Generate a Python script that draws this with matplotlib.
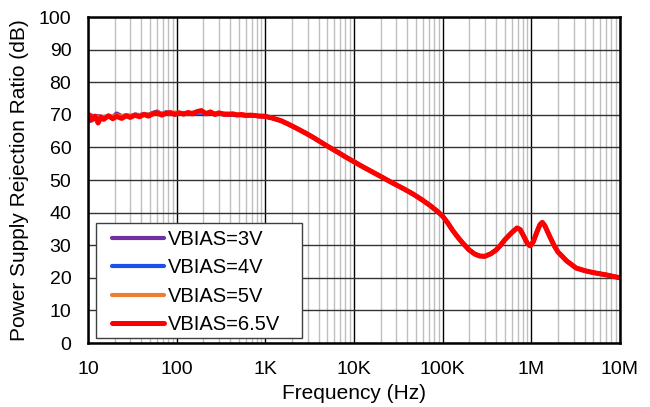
import matplotlib.pyplot as plt
from matplotlib.patches import Rectangle
from matplotlib.ticker import FixedLocator, NullFormatter

FONT = {'family': 'Liberation Sans', 'size': 15}

freq_low = [10, 11, 12, 13, 14, 15, 17, 19, 21, 24, 27, 30, 34, 38, 43, 48, 54,
            60, 68, 76, 85, 95, 107, 120, 135, 150, 170, 190, 215, 240, 270,
            300, 340, 380, 430, 480, 540, 600, 680, 760, 850, 950]

psrr_low_3v = [69.5, 69.8, 69.2, 69.6, 69.4, 69.0, 69.5, 69.3, 70.4, 69.6, 69.8,
               69.6, 70.1, 69.9, 70.3, 70.0, 70.6, 71.0, 70.3, 70.5, 70.2, 70.6,
               70.3, 70.5, 70.2, 70.6, 70.5, 70.8, 70.4, 70.6, 70.3, 70.4, 70.2,
               70.3, 70.0, 70.1, 69.9, 69.9, 69.8, 69.7, 69.6, 69.5]
psrr_low_4v = [67.8, 68.5, 69.0, 68.8, 69.3, 69.0, 69.4, 69.2, 69.6, 69.3, 69.7,
               69.5, 69.9, 69.8, 70.1, 69.9, 70.4, 70.6, 70.2, 70.8, 70.4, 70.5,
               70.3, 70.6, 70.4, 70.5, 70.6, 70.7, 70.3, 70.5, 70.2, 70.4, 70.1,
               70.2, 70.0, 70.0, 69.9, 69.8, 69.8, 69.7, 69.6, 69.5]
psrr_low_5v = [69.0, 69.3, 69.6, 69.1, 69.5, 69.2, 69.7, 69.4, 69.8, 69.5, 69.9,
               69.7, 70.0, 69.8, 70.2, 70.0, 70.3, 70.7, 70.4, 70.6, 70.5, 70.7,
               70.6, 70.5, 70.7, 70.6, 70.8, 71.0, 70.6, 70.7, 70.5, 70.6, 70.4,
               70.4, 70.3, 70.2, 70.1, 70.0, 69.9, 69.8, 69.7, 69.6]
psrr_low_65v = [70.4, 68.4, 69.6, 67.5, 69.3, 68.6, 69.7, 68.8, 69.5, 68.9, 69.7,
                69.2, 69.9, 69.4, 70.1, 69.6, 70.3, 70.6, 69.9, 70.5, 70.7, 70.1,
                70.6, 70.2, 70.7, 70.3, 71.0, 71.3, 70.3, 70.9, 70.1, 70.6, 70.2,
                70.1, 70.3, 69.9, 70.1, 69.8, 69.9, 69.8, 69.6, 69.6]

freq_high = [1e3, 1.2e3, 1.5e3, 1.8e3, 2.2e3, 2.8e3, 3.5e3, 4.3e3, 5.3e3, 6.6e3,
             8e3, 10e3, 12.5e3, 15.8e3, 20e3, 24.4e3, 30e3, 37.6e3, 47e3, 58e3,
             72e3, 89e3, 100e3, 115e3, 130e3, 150e3, 168e3, 200e3, 230e3, 260e3,
             300e3, 350e3, 400e3, 450e3, 500e3, 560e3, 620e3, 690e3, 750e3,
             820e3, 900e3, 970e3, 1.05e6, 1.15e6, 1.25e6, 1.33e6, 1.42e6, 1.6e6,
             1.8e6, 2e6, 2.5e6, 3.2e6, 4e6, 5e6, 7e6, 10e6]
psrr_high = [69.5, 69.0, 68.2, 67.2, 66.0, 64.5, 63.0, 61.5, 60.0, 58.5,
             57.1, 55.6, 54.1, 52.6, 51.1, 49.8, 48.5, 47.1, 45.6, 44.0,
             42.2, 40.2, 38.9, 36.7, 34.5, 32.3, 30.7, 28.5, 27.3, 26.7,
             26.6, 27.4, 28.5, 30.0, 31.6, 33.0, 34.2, 35.3, 34.8,
             32.8, 30.6, 29.8, 31.0, 33.9, 36.3, 37.0, 36.0, 32.9,
             30.0, 27.9, 25.2, 23.0, 22.2, 21.6, 20.9, 20.0]

labels = ['VBIAS=3V', 'VBIAS=4V', 'VBIAS=5V', 'VBIAS=6.5V']
colors = ['#7030A0', '#1A4FF0', '#ED7D31', '#FF0000']
widths = [3, 3, 3, 3.6]
low_sets = [psrr_low_3v, psrr_low_4v, psrr_low_5v, psrr_low_65v]

fig = plt.figure(figsize=(6.5, 4.07), dpi=100)
ax = fig.add_axes([0.1354, 0.1572, 0.8184, 0.801])

for lab, col, w, low in zip(labels, colors, widths, low_sets):
    ax.plot(freq_low + freq_high, low + psrr_high, color=col, lw=w,
            label=lab, solid_capstyle='round', solid_joinstyle='round')

ax.set_xscale('log')
ax.set_xlim(10, 1e7)
ax.set_ylim(0, 100)
ax.set_yticks(range(0, 101, 10))
ax.set_xticks([10, 100, 1e3, 1e4, 1e5, 1e6, 1e7])
ax.set_xticklabels(['10', '100', '1K', '10K', '100K', '1M', '10M'])
minors = [m * 10 ** d for d in range(1, 7) for m in range(2, 10)]
ax.xaxis.set_minor_locator(FixedLocator(minors))
ax.xaxis.set_minor_formatter(NullFormatter())

ax.grid(which='major', axis='x', color='black', lw=1.0)
ax.grid(which='minor', axis='x', color='#BFBFBF', lw=1.0)
ax.grid(which='major', axis='y', color='#333333', lw=1.0)
ax.set_axisbelow(True)

for s in ax.spines.values():
    s.set_linewidth(1.8)
ax.tick_params(which='both', length=0)
ax.tick_params(axis='y', pad=12)
ax.tick_params(axis='x', pad=13)
for t in ax.get_xticklabels() + ax.get_yticklabels():
    t.set_fontfamily('Liberation Sans')
    t.set_fontsize(14)

ax.set_xlabel('Frequency (Hz)', fontdict=FONT, labelpad=4)
ax.set_ylabel('Power Supply Rejection Ratio (dB)', fontdict=FONT, labelpad=7)

# legend frame drawn separately (wider right margin like the original)
ax.add_patch(Rectangle((0.015, 0.015), 0.387, 0.353, transform=ax.transAxes,
                       facecolor='white', edgecolor='#404040', lw=1.0,
                       zorder=4.9))
leg = ax.legend(loc='lower left', bbox_to_anchor=(0.045, 0.028), frameon=False,
                prop={'family': 'Liberation Sans', 'size': 14.5},
                handlelength=2.6, handletextpad=0.2, labelspacing=0.46,
                borderpad=0, borderaxespad=0)
leg.set_zorder(5)

plt.savefig('out.png', dpi=100)
